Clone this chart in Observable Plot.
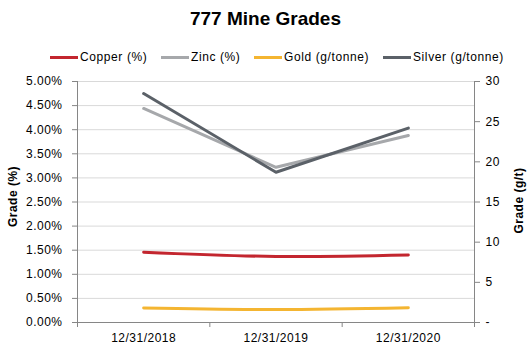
<!DOCTYPE html>
<html>
<head>
<meta charset="utf-8">
<script src="https://cdn.jsdelivr.net/npm/d3@7"></script>
<script src="https://cdn.jsdelivr.net/npm/@observablehq/plot@0.6"></script>
<style>
  body { margin: 0; background: #fff; font-family: "Liberation Sans", Arial, sans-serif; }
  #wrap { position: relative; width: 531px; height: 356px; }
  #head { position: relative; width: 531px; height: 70px; }
  #title { position: absolute; left: 0; width: 531px; top: 8px; text-align: center; font-weight: bold; font-size: 19px; color: #000; }
  .lg { position: absolute; top: 49px; height: 16px; display: flex; align-items: center; font-size: 12px; letter-spacing: 0.6px; color: #000; white-space: nowrap; }
  .lg span.sw { display: inline-block; width: 28px; height: 3px; margin-right: 2px; }
</style>
</head>
<body>
<div id="wrap">
  <div id="head">
    <div id="title">777 Mine Grades</div>
    <div id="legend"></div>
  </div>
  <div id="chart"></div>
</div>
<script>
const categories = ["12/31/2018", "12/31/2019", "12/31/2020"];
const copper = [1.46, 1.37, 1.40];   // %
const zinc = [4.44, 3.22, 3.88];     // %
const gold = [1.82, 1.62, 1.84];     // g/tonne
const silver = [28.5, 18.7, 24.2];   // g/tonne
const leftTicks = [0, 0.5, 1, 1.5, 2, 2.5, 3, 3.5, 4, 4.5, 5];
const rightTicks = [0, 5, 10, 15, 20, 25, 30];

const seriesNames = ["Copper (%)", "Zinc (%)", "Gold (g/tonne)", "Silver (g/tonne)"];
const colors = ["#c3262f", "#a6a8ab", "#f4b531", "#5b6168"];
const ratio = 30 / 5; // right axis g/t per left axis %

// legend
const legendLeft = [50, 161, 254, 383];
const legend = document.getElementById("legend");
seriesNames.forEach((n, i) => {
  const d = document.createElement("div");
  d.className = "lg";
  d.style.left = legendLeft[i] + "px";
  d.innerHTML = `<span class="sw" style="background:${colors[i]}"></span>${n}`;
  legend.appendChild(d);
});

const mk = (vals, scale) => vals.map((v, i) => ({x: i + 0.5, y: v / scale}));

const axisColor = "#868686";
const chart = Plot.plot({
  width: 531,
  height: 286,
  marginLeft: 77,
  marginRight: 57,
  marginTop: 11,
  marginBottom: 34,
  style: {fontFamily: "'Liberation Sans', Arial, sans-serif", fontSize: "12px", letterSpacing: "0.5px", color: "#000", background: "#fff"},
  x: {domain: [0, 3]},
  y: {domain: [0, 5]},
  marks: [
    Plot.gridY(leftTicks, {stroke: "#d9d9d9", strokeOpacity: 1}),
    Plot.ruleY([0], {stroke: axisColor}),
    Plot.ruleX([0, 3], {stroke: axisColor}),
    Plot.axisY({ticks: leftTicks, tickFormat: d => d.toFixed(2) + "%", tickSize: 5, tickPadding: 10, stroke: axisColor, label: null}),
    Plot.axisY({anchor: "right", ticks: rightTicks.map(v => v / ratio), tickFormat: d => { const v = Math.round(d * ratio); return v === 0 ? "-" : String(v); }, tickSize: 5, tickPadding: 6, stroke: axisColor, label: null}),
    Plot.axisX({ticks: [0, 1, 2, 3], tickSize: 5, tickFormat: () => "", stroke: axisColor, label: null}),
    Plot.axisX({ticks: categories.map((c, i) => i + 0.5), tickSize: 0, tickPadding: 11, tickFormat: d => categories[Math.floor(d)], label: null}),
    Plot.text(["Grade (%)"], {frameAnchor: "left", textAnchor: "middle", dx: -64, dy: -5.5, rotate: -90, fontWeight: "bold", fontSize: 12, text: d => d}),
    Plot.text(["Grade (g/t)"], {frameAnchor: "right", textAnchor: "middle", dx: 45, dy: -1.5, rotate: -90, fontWeight: "bold", fontSize: 12, text: d => d}),
    Plot.line(mk(zinc, 1), {x: "x", y: "y", stroke: colors[1], strokeWidth: 3}),
    Plot.line(mk(silver, ratio), {x: "x", y: "y", stroke: colors[3], strokeWidth: 3}),
    Plot.line(mk(copper, 1), {x: "x", y: "y", stroke: colors[0], strokeWidth: 3, curve: "catmull-rom"}),
    Plot.line(mk(gold, ratio), {x: "x", y: "y", stroke: colors[2], strokeWidth: 3, curve: "catmull-rom"})
  ]
});
document.getElementById("chart").appendChild(chart);
</script>
</body>
</html>
